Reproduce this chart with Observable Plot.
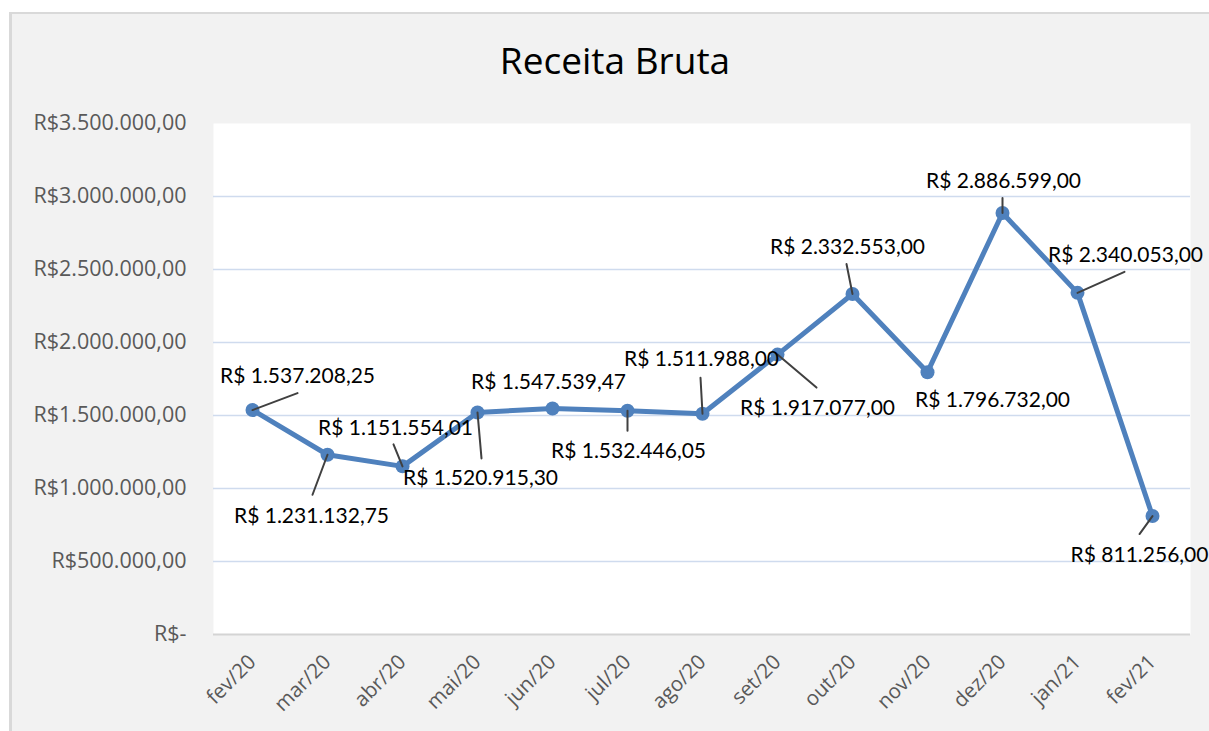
<!DOCTYPE html>
<html>
<head>
<meta charset="utf-8">
<script src="https://cdn.jsdelivr.net/npm/d3@7"></script>
<script src="https://cdn.jsdelivr.net/npm/@observablehq/plot@0.6"></script>
<style>
  html, body { margin: 0; padding: 0; background: #ffffff; width: 1209px; height: 731px; overflow: hidden; }
  #card { position: absolute; left: 9px; top: 12px; width: 1230px; height: 740px; background: #f2f2f2;
          border-left: 3px solid #d9d9d9; border-top: 2px solid #d9d9d9; box-sizing: border-box; }
  #title { position: absolute; left: 0; top: 41px; width: 1230px; text-align: center;
           font: 400 37px "Open Sans", sans-serif; line-height: 1; color: #000; }
  #chart { position: absolute; left: 0; top: 100px; }
</style>
</head>
<body>
<div id="card"></div>
<div id="title">Receita Bruta</div>
<div id="chart"></div>
<script>
// ---- data ----
const months = ["fev/20","mar/20","abr/20","mai/20","jun/20","jul/20","ago/20","set/20","out/20","nov/20","dez/20","jan/21","fev/21"];
const revenue = [1537208.25, 1231132.75, 1151554.01, 1520915.30, 1547539.47, 1532446.05, 1511988.00, 1917077.00, 2332553.00, 1796732.00, 2886599.00, 2340053.00, 811256.00];
const yTicks = [0, 500000, 1000000, 1500000, 2000000, 2500000, 3000000, 3500000];

// ---- label placement (pixel offsets from each point, layout only) ----
const labelOffset = [[45,-34],[-16,62],[-7,-38],[3,66],[-4,-26],[1,41],[-1,-54],[40,54],[-5,-47],[65,28],[1,-32],[48,-38],[-13,39]];
const leaderEnd   = [[45,-17],[-15,40],[-9,-22],[4,46],null,[0,20],[-2,-36],[39,33],[-6,-30],null,[0,-15],[47,-21],[-13,18]];

const br = d3.formatLocale({decimal: ",", thousands: ".", grouping: [3], currency: ["R$", ""]});
const f2 = br.format(",.2f");
const tickFmt = v => v === 0 ? "R$-" : "R$" + f2(v);

const data = months.map((m, i) => ({month: m, value: revenue[i], label: "R$ " + f2(revenue[i])}));
const leaders = data.map((d, i) => {
  const e = leaderEnd[i];
  if (!e) return null;
  return {...d, len: Math.hypot(e[0], e[1]), ang: Math.atan2(e[0], -e[1]) * 180 / Math.PI};
}).filter(d => d);

const blue = "#4f81bd";

const chart = Plot.plot({
  width: 1209,
  height: 631,
  marginTop: 23,
  marginBottom: 97,
  marginLeft: 213,
  marginRight: 19,
  style: {background: "transparent", fontFamily: "'Open Sans', sans-serif", overflow: "visible"},
  x: {type: "point", domain: months, padding: 0.5, label: null},
  y: {domain: [0, 3500000], label: null},
  length: {type: "identity"},
  marks: [
    Plot.frame({fill: "white", stroke: null}),
    Plot.gridY(yTicks.filter(v => v > 0 && v < 3500000), {stroke: "#cfdbee", strokeOpacity: 1, strokeWidth: 1.6}),
    Plot.ruleY([0], {stroke: "#d4d4d4", strokeWidth: 2}),
    Plot.axisY(yTicks, {tickFormat: tickFmt, tickSize: 0, tickPadding: 27, fontSize: 21.5, fontFamily: "'Open Sans', sans-serif", fill: "#595959", label: null}),
    Plot.axisX({tickSize: 0, tickRotate: -45, tickPadding: 24, fontSize: 20.5, fontFamily: "'Open Sans', sans-serif", fill: "#595959", label: null}),
    Plot.line(data, {x: "month", y: "value", stroke: blue, strokeWidth: 5, strokeLinejoin: "round"}),
    Plot.dot(data, {x: "month", y: "value", r: 7, fill: blue, stroke: null}),
    Plot.vector(leaders, {
      x: "month", y: "value", length: "len", rotate: "ang", anchor: "start",
      stroke: "#404040", strokeWidth: 2,
      shape: {draw(context, l) { context.moveTo(0, 0); context.lineTo(0, -l); }}
    }),
    ...data.map((d, i) => Plot.text([d], {
      x: "month", y: "value", text: "label",
      dx: labelOffset[i][0], dy: labelOffset[i][1],
      fontSize: 21, fontFamily: "Lato, sans-serif", fill: "#000"
    }))
  ]
});
document.getElementById("chart").appendChild(chart);
</script>
</body>
</html>
